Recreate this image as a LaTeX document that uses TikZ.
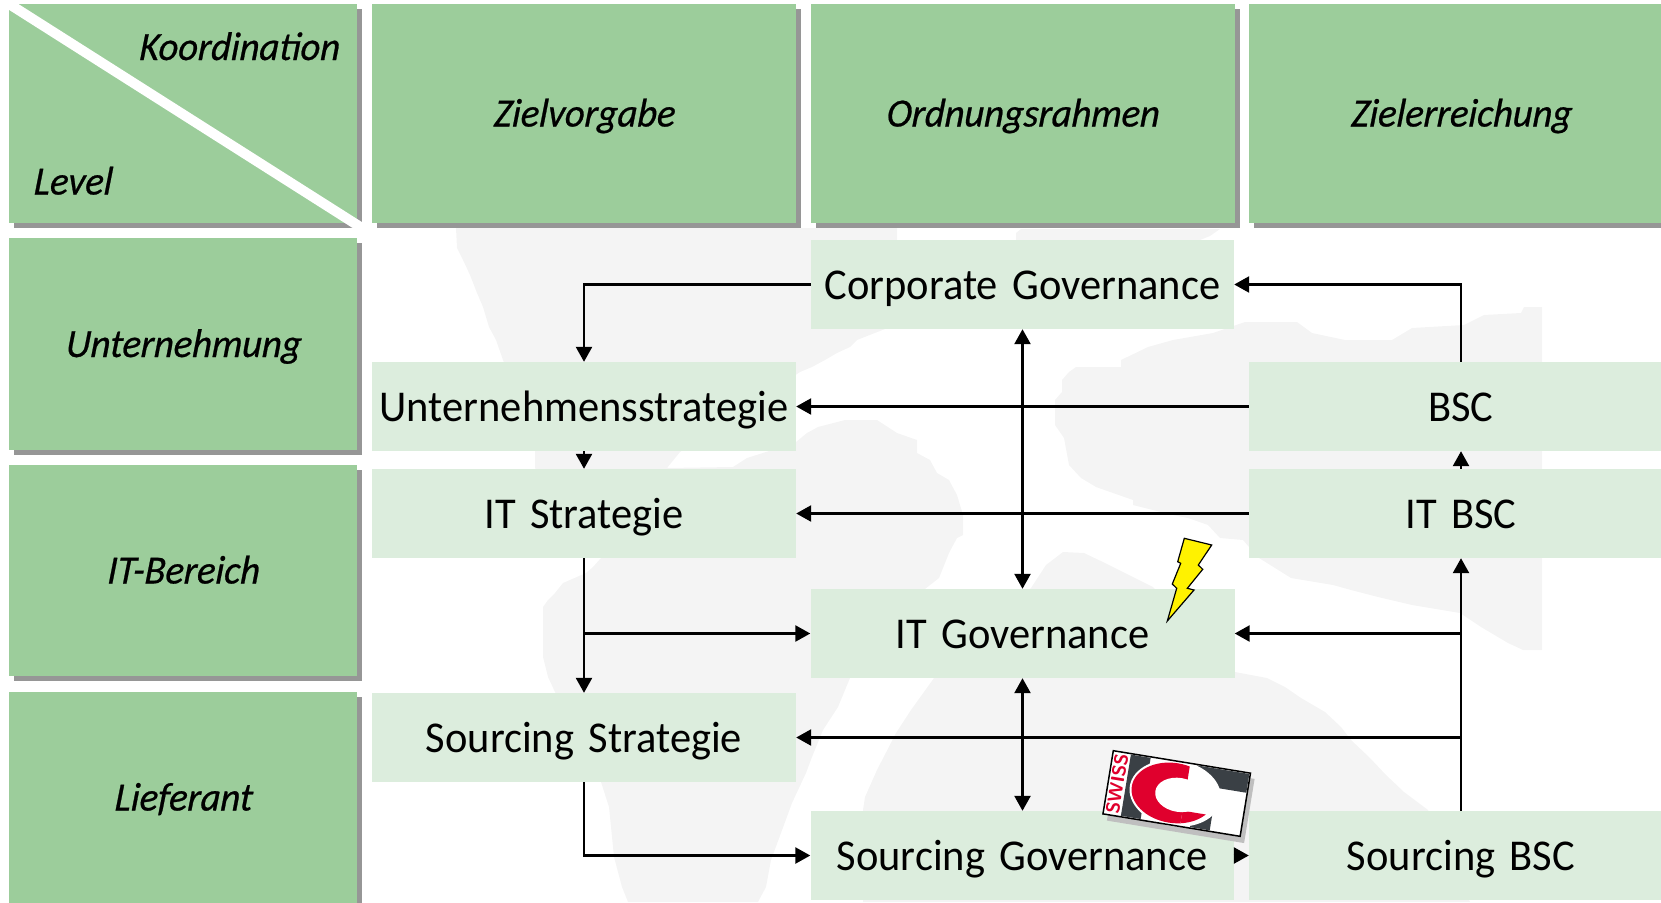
\documentclass[tikz,border=0pt]{standalone}
\usepackage{fontspec}
\usetikzlibrary{arrows.meta,shadows}
\newfontfamily\lablfont{Carlito}[FakeStretch=0.965,WordSpace=1.5]
\newfontfamily\headfont{Carlito Italic}[FakeStretch=0.96,FakeBold=0.6,FakeSlant=0.08]
\definecolor{hgreen}{RGB}{156,205,155}
\definecolor{lgreen}{RGB}{220,237,221}
\definecolor{wmark}{RGB}{244,244,244}
\definecolor{shade}{RGB}{150,150,150}
\definecolor{ictdark}{RGB}{58,64,69}
\definecolor{ictred}{RGB}{224,0,45}
\tikzset{
  hdr/.style 2 args={fill=hgreen,inner sep=0pt,minimum width=#1*1bp,minimum height=#2*1bp,
    drop shadow={shadow xshift=5bp,shadow yshift=-5bp,fill=shade,opacity=1},
    font=\headfont\fontsize{40.15}{44}\selectfont,text height=26bp,text depth=0pt},
  lbox/.style 2 args={fill=lgreen,inner sep=0pt,minimum width=#1*1bp,minimum height=#2*1bp,
    font=\lablfont\fontsize{44.17}{48}\selectfont,text height=29bp,text depth=0pt},
  htext/.style={inner sep=0pt,font=\headfont\fontsize{40.15}{44}\selectfont,text height=26bp,text depth=0pt},
  arr/.style={draw=black,line width=2.5bp,-{Triangle[length=15bp,width=16bp]}},
  arrb/.style={draw=black,line width=2.5bp,{Triangle[length=15bp,width=16bp]}-{Triangle[length=15bp,width=16bp]}},
}
\begin{document}
\begin{tikzpicture}[x=1bp,y=-1bp]
\useasboundingbox (0,0) rectangle (1661,902);
\clip (0,0) rectangle (1661,902);
% watermark
\fill[wmark] (456,228)--(457,248)--(463,260)--(470,275)--(477,293)--(483,307)--(489,327)--(496,340)--(503,360)--(535,451)--(535,468)--(601,558)--(593,567)--(586,573)--(563,583)--(555,593)--(548,600)--(543,607)--(543,657)--(548,677)--(555,692)--(601,782)--(609,807)--(614,857)--(622,887)--(628,902)--(758,902)--(766,887)--(771,860)--(781,833)--(792,803)--(806,773)--(812,757)--(823,730)--(838,707)--(850,678)--(925,589)--(939,578)--(949,553)--(957,538)--(963,535)--(963,515)--(957,495)--(949,480)--(937,473)--(930,460)--(917,453)--(917,440)--(897,433)--(877,420)--(845,420)--(818,427)--(807,433)--(796,442)--(766,452)--(747,458)--(733,467)--(667,468)--(680,452)--(800,372)--(812,367)--(825,360)--(837,353)--(850,347)--(857,340)--(885,329)--(897,240)--(897,228)--cycle;
\fill[wmark] (1016,240)--(1016,233)--(1021,229)--(1220,229)--(1210,236)--(1200,240)--cycle;
\fill[wmark] (1069,465)--(1064,438)--(1055,425)--(1055,400)--(1062,392)--(1062,380)--(1069,372)--(1076,367)--(1121,367)--(1121,360)--(1148,347)--(1173,340)--(1213,333)--(1245,322)--(1297,322)--(1312,333)--(1345,340)--(1392,340)--(1412,328)--(1464,325)--(1484,315)--(1521,313)--(1524,307)--(1542,307)--(1542,650)--(1523,650)--(1508,643)--(1481,627)--(1460,613)--(1412,605)--(1378,597)--(1351,590)--(1333,585)--(1291,578)--(1259,558)--(1249,547)--(1243,540)--(1220,538)--(1208,525)--(1188,518)--(1173,515)--(1133,505)--(1133,500)--(1113,493)--(1096,487)--(1081,478)--cycle;
\fill[wmark] (1031,588)--(1046,565)--(1063,552)--(1084,553)--(1105,563)--(1153,587)--(1235,672)--(1267,678)--(1285,687)--(1301,698)--(1325,712)--(1341,727)--(1351,740)--(1370,758)--(1386,775)--(1404,792)--(1428,810)--(1470,902)--(863,902)--(863,810)--(865,797)--(877,770)--(896,733)--(911,710)--(934,678)--cycle;
% header row
\node[hdr={348}{219}] (corner) at (183,113.5) {};
\node[hdr={424}{219}] (ziel) at (584,113.5) {Zielvorgabe};
\node[hdr={424}{219}] (ordn) at (1022.5,113.5) {Ordnungsrahmen};
\node[hdr={424}{219}] (erreich) at (1461,113.5) {Zielerreichung};
\draw[white,line width=10bp] (corner.north west) -- (362,228);
\node[htext] (koord) at (239,47) {Koordination};
\node[htext] (level) at (72.5,181.5) {Level};
% row heads
\node[hdr={348}{212}] (unt) at (183,344) {Unternehmung};
\node[hdr={348}{211}] (itb) at (183,570.5) {IT-Bereich};
\node[hdr={348}{211}] (lief) at (183,797.5) {Lieferant};
% content boxes
\node[lbox={423}{89}] (corp) at (1022.5,284.5) {Corporate Governance};
\node[lbox={424}{89}] (ustr) at (584,406.5) {Unternehmensstrategie};
\node[lbox={424}{89}] (itstr) at (584,513.5) {IT Strategie};
\node[lbox={424}{89}] (bsc) at (1461,406.5) {BSC};
\node[lbox={424}{89}] (itbsc) at (1461,513.5) {IT BSC};
\node[lbox={424}{89}] (itgov) at (1022.5,633.5) {IT Governance};
\node[lbox={424}{89}] (sstr) at (584,737.5) {Sourcing Strategie};
\node[lbox={423}{89}] (sgov) at (1022,855.5) {Sourcing Governance};
\node[lbox={424}{89}] (sbsc) at (1461,855.5) {Sourcing BSC};
% connectors
\draw[arr] (corp.west) -| (ustr.north);
\draw[arr] (bsc.north) |- (corp.east);
\draw[arr] (bsc.west) -- (ustr.east);
\draw[arr] (itbsc.west) -- (itstr.east);
\draw[arr] (ustr.south) -- (itstr.north);
\draw[arr] (itbsc.north) -- (bsc.south);
\draw[arr] (itstr.south) -- (sstr.north);
\draw[arr] (itstr.south |- itgov.west) -- (itgov.west);
\draw[arr] (sstr.south) |- (sgov.west);
\draw[arr] (sbsc.north) -- (itbsc.south);
\draw[arr] (sbsc.north |- itgov.east) -- (itgov.east);
\draw[arr] (sbsc.north |- sstr.east) -- (sstr.east);
\draw[arr] (sgov.east) -- (sbsc.west);
\draw[arrb] (corp.south) -- (itgov.north);
\draw[arrb] (itgov.south) -- (itgov.south |- sgov.north);
% lightning
\draw[fill=yellow,line width=1.2bp,line join=miter] (1184.3,538.3)--(1211.7,545)--(1198.3,565)--(1202.7,569.3)--(1187.3,588.3)--(1194,590)--(1167.3,621)--(1176.7,588.3)--(1172.3,584)--(1180.7,563.3)--(1177.7,561.7)--cycle;
% logo
\begin{scope}[shift={(1113.3,750.7)},rotate=-9.3]
  \fill[black!25] (5,5) rectangle (144,70);
  \fill[white] (0,0) rectangle (139,64);
  \fill[ictdark] (18,1) rectangle (38,63);
  \fill[ictdark] (85,1) rectangle (138,20);
  \fill[ictdark] (88,20) rectangle (108,63);
  \fill[white] (68,32) ellipse [x radius=46,y radius=33];
  \begin{scope}
    \clip (66,32) ellipse [x radius=42,y radius=30];
    \fill[ictred] (20,0) rectangle (78,64);
    \fill[ictred] (78,48) rectangle (120,64);
  \end{scope}
  \fill[white] (72,33) ellipse [x radius=24,y radius=17];
  \fill[white] (78,24) rectangle (94,46);
  \node[rotate=80.7,inner sep=0pt,text=ictred,font=\bfseries\sffamily\fontsize{19}{20}\selectfont] (swiss) at (9,32) {SWISS};
  \draw[black,line width=1.5bp] (0,0) rectangle (139,64);
\end{scope}
\end{tikzpicture}
\end{document}
